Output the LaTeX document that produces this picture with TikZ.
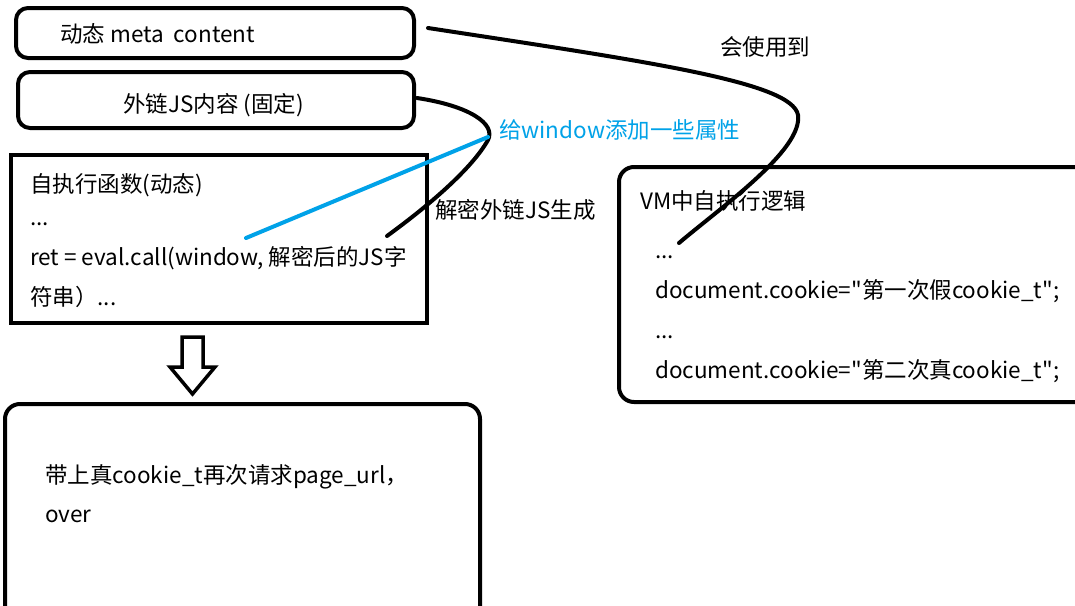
\documentclass[tikz,border=0pt]{standalone}
\usepackage{fontspec}
\setmainfont{Noto Sans CJK SC}[Ligatures=TeXOff]
\definecolor{inkblue}{RGB}{0,162,232}
\begin{document}
\begin{tikzpicture}[x=1pt,y=-1pt,
  box/.style={draw=black,line width=4,rounded corners=12,inner sep=0,fill=none},
  sharpbox/.style={draw=black,line width=4,inner sep=0},
  txt/.style={anchor=base west,inner sep=0,font=\fontsize{22.5}{27}\selectfont},
  ink/.style={line width=4,line cap=round},
]
\useasboundingbox (0,0) rectangle (1075,605);
\fill[white] (0,0) rectangle (1075,605);

% boxes
\node[box,minimum width=398,minimum height=50] (meta) at (215,33) {};
\node[box,minimum width=396,minimum height=56] (ext) at (216,100) {};
\node[sharpbox,minimum width=416,minimum height=168] (self) at (219,239) {};
\node[box,rounded corners=15,minimum width=475,minimum height=230] (final) at (242.5,519) {};
\node[box,rounded corners=15,minimum width=480,minimum height=235] (vm) at (859,284.5) {};

% hollow arrow
\draw[line width=3.5,line join=miter] (182,337) -- (203,337) -- (203,367) -- (215,367) -- (192.5,394) -- (170,367) -- (182,367) -- cycle;

% texts
\node[txt] (t1) at (60,42) {动态 meta\ \ content};
\node[txt] (t2) at (123,112) {外链JS内容 (固定)};
\node[txt] (t3) at (720,55) {会使用到};
\node[txt,text=inkblue] (t4) at (499,138) {给window添加一些属性};
\node[txt] (t5) at (435,218) {解密外链JS生成};

\node[txt] (s1) at (30,192) {自执行函数(动态)};
\node[txt] (s2) at (30,225) {...};
\node[txt] (s3) at (30,265) {ret = eval.call(window, 解密后的JS字};
\node[txt] (s4) at (30,305) {符串）...};

\node[txt] (v1) at (640,209) {VM中自执行逻辑};
\node[txt] (v2) at (655,258) {...};
\node[txt] (v3) at (655,298) {document.cookie="第一次假cookie\_t";};
\node[txt] (v4) at (655,338) {...};
\node[txt] (v5) at (655,378) {document.cookie="第二次真cookie\_t";};

\node[txt] (f1) at (45,483) {带上真cookie\_t再次请求page\_url，};
\node[txt] (f2) at (45,522) {over};

% connectors
\coordinate (c1s) at (428,28);
\coordinate (c1e) at (679,243);
\draw[ink] (c1s) .. controls (650,62) and (792,82) .. (798,115)
  .. controls (803,150) and (720,208) .. (c1e);
\coordinate (c2s) at (417,98);
\coordinate (c2e) at (387,236);
\draw[ink] (c2s) .. controls (470,106) and (496,124) .. (488,140)
  .. controls (470,172) and (420,212) .. (c2e);
\coordinate (bs) at (488,137);
\coordinate (be) at (246,238);
\draw[ink,draw=inkblue] (bs) -- (be);
\end{tikzpicture}
\end{document}
